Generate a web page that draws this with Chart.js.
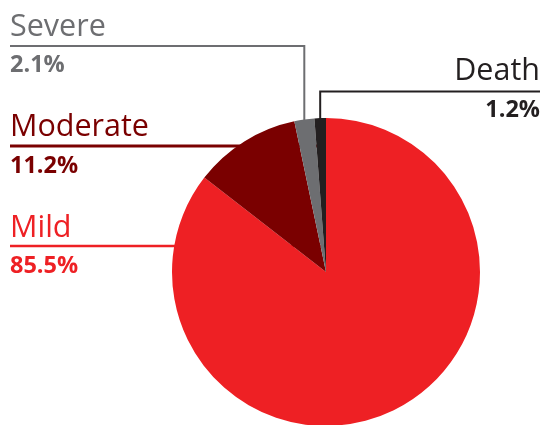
<!DOCTYPE html>
<html>
<head>
<meta charset="utf-8">
<script src="https://cdn.jsdelivr.net/npm/chart.js@4"></script>
<style>
html,body{margin:0;padding:0;background:#fff;overflow:hidden;}
#wrap{width:545px;height:440px;}
</style>
</head>
<body>
<div id="wrap"><canvas id="c" width="545" height="440"></canvas></div>
<script>
const categories = ['Mild', 'Moderate', 'Severe', 'Death'];
const values = [85.5, 11.2, 2.1, 1.2];
const valueLabels = ['85.5%', '11.2%', '2.1%', '1.2%'];
const sliceColors = ['#ee2024', '#7a0000', '#6d6e71', '#231f20'];

// label layout (positions only)
const labelLayout = [
  {side: 'left', nameY: 237, lineY: 246, pctY: 273, lw: 2.5},
  {side: 'left', nameY: 136, lineY: 146, pctY: 173, lw: 3},
  {side: 'topLeft', nameY: 36, lineY: 46, pctY: 72, lw: 2},
  {side: 'topRight', nameY: 80, lineY: 91.5, pctY: 117, lw: 2}
];

const leaderPlugin = {
  id: 'leaders',
  beforeDatasetsDraw(chart) {
    const ctx = chart.ctx;
    const meta = chart.getDatasetMeta(0);
    ctx.save();
    meta.data.forEach((arc, i) => {
      const L = labelLayout[i];
      const mid = (arc.startAngle + arc.endAngle) / 2;
      const px = arc.x + arc.outerRadius * Math.cos(mid);
      const py = arc.y + arc.outerRadius * Math.sin(mid);
      ctx.strokeStyle = sliceColors[i];
      ctx.lineWidth = L.lw;
      ctx.lineCap = 'butt';
      ctx.beginPath();
      if (L.side === 'left') {
        ctx.moveTo(10, L.lineY);
        ctx.lineTo(arc.x, L.lineY);
      } else if (L.side === 'topLeft') {
        ctx.moveTo(10, L.lineY);
        ctx.lineTo(px, L.lineY);
        ctx.lineTo(px, py + 12);
      } else {
        ctx.moveTo(540, L.lineY);
        ctx.lineTo(px, L.lineY);
        ctx.lineTo(px, py + 12);
      }
      ctx.stroke();
    });
    ctx.restore();
  },
  afterDatasetsDraw(chart) {
    const ctx = chart.ctx;
    ctx.save();
    ctx.textBaseline = 'alphabetic';
    chart.data.labels.forEach((name, i) => {
      const L = labelLayout[i];
      ctx.fillStyle = sliceColors[i];
      const right = L.side === 'topRight';
      ctx.textAlign = right ? 'right' : 'left';
      const x = right ? 540 : 10;
      ctx.font = '30.5px "Open Sans"';
      ctx.fillText(name, x, L.nameY);
      ctx.font = 'bold 23.5px "Open Sans"';
      ctx.fillText(valueLabels[i], x, L.pctY);
    });
    ctx.restore();
  }
};

new Chart(document.getElementById('c'), {
  type: 'pie',
  data: {
    labels: categories,
    datasets: [{
      data: values,
      backgroundColor: sliceColors,
      borderWidth: 0
    }]
  },
  options: {
    responsive: false,
    animation: false,
    layout: {padding: {left: 172, right: 65, top: 118, bottom: 14}},
    plugins: {legend: {display: false}, tooltip: {enabled: false}}
  },
  plugins: [leaderPlugin]
});
</script>
</body>
</html>
